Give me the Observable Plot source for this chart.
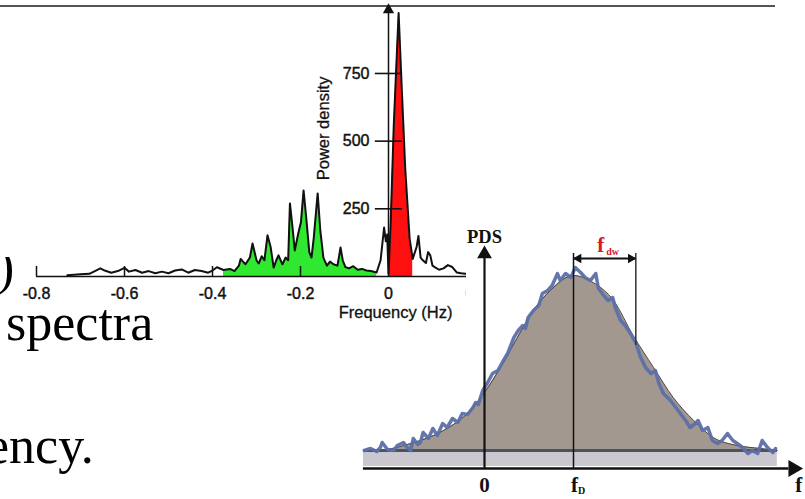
<!DOCTYPE html>
<html>
<head>
<meta charset="utf-8">
<script src="https://cdn.jsdelivr.net/npm/d3@7"></script>
<script src="https://cdn.jsdelivr.net/npm/@observablehq/plot@0.6"></script>
<style>
  html, body { margin: 0; padding: 0; background: #fff; }
  #page { position: relative; width: 805px; height: 499px; overflow: hidden; background: #fff; }
  .slide { position: absolute; font-family: "Liberation Serif", "Times New Roman", serif; font-size: 52px; line-height: 30px; color: #000; white-space: nowrap; }
  #rule { position: absolute; left: 0; top: 5px; width: 775px; height: 2px; background: #555; }
  #leftBox { position: absolute; left: 0; top: 0; width: 466px; height: 330px; overflow: hidden; }
  #rightBox { position: absolute; left: 355px; top: 225px; width: 450px; height: 274px; }
  #parenBox { position: absolute; left: 0; top: 257px; width: 30px; height: 45px; overflow: hidden; }
  #leftBox svg, #rightBox svg { max-width: none !important; }
</style>
</head>
<body>
<div id="page">
  <div id="rule"></div>
  <div id="parenBox"><div class="slide" style="left:-3px; top:-5px;">)</div></div>
  <div class="slide" style="left:6px; top:307.5px;">spectra</div>
  <div class="slide" style="left:-14px; top:431px;">ency.</div>
  <div id="leftBox"></div>
  <div id="rightBox"></div>
</div>
<script>
// ---------- Left chart: power density spectrum ----------
const leftFreq = [-0.73,-0.70,-0.68,-0.665,-0.655,-0.645,-0.63,-0.615,-0.60,-0.59,
  -0.575,-0.56,-0.545,-0.53,-0.515,-0.50,-0.485,-0.47,-0.455,-0.44,
  -0.425,-0.41,-0.40,-0.39,-0.375,-0.36,-0.35,-0.34,-0.336,-0.325,
  -0.315,-0.309,-0.300,-0.295,-0.288,-0.282,-0.275,-0.268,-0.261,-0.255,
  -0.25,-0.241,-0.234,-0.228,-0.224,-0.218,-0.213,-0.205,-0.199,-0.193,
  -0.186,-0.180,-0.175,-0.170,-0.161,-0.155,-0.148,-0.140,-0.133,-0.125,
  -0.116,-0.109,-0.104,-0.098,-0.09,-0.08,-0.07,-0.06,-0.05,-0.04,
  -0.027,-0.018,-0.010,-0.006,-0.003,0,0.005,0.012,0.023,0.030,
  0.038,0.048,0.055,0.058,0.064,0.068,0.073,0.078,0.085,0.090,
  0.095,0.100,0.105,0.115,0.125,0.135,0.145,0.155,0.165,0.175];
const leftPower = [5,8,10,22,30,22,14,20,32,18,
  24,14,20,12,18,12,22,26,14,24,
  20,14,22,34,24,28,20,40,65,45,
  70,122,60,48,75,60,152,110,33,60,
  78,45,70,60,270,180,96,160,200,318,
  200,90,70,140,307,170,70,40,55,45,
  40,107,60,35,30,38,25,28,22,20,
  15,60,181,130,155,10,200,560,973,700,
  400,140,65,80,110,150,70,60,50,90,
  78,40,35,25,30,42,35,15,12,10];
const leftTicksX = [-0.8, -0.6, -0.4, -0.2, 0, 0.2];
const leftTicksY = [250, 500, 750];
const greenBand = [-0.375, -0.027];
const redBand = [0, 0.055];
const leftXLabel = "Frequency (Hz)";
const leftYLabel = "Power density";

const spectrum = leftFreq.map((f, i) => ({f, p: leftPower[i]}));
const greenPart = spectrum.filter(d => d.f >= greenBand[0] && d.f <= greenBand[1]);
const redPart = spectrum.filter(d => d.f >= redBand[0] && d.f <= redBand[1]);
const fmtX = d => d === 0 ? "0" : d.toFixed(1);
const ink = "#111";
const heavy = {fill: ink, stroke: ink, strokeWidth: 0.45};

const leftPlot = Plot.plot({
  width: 480, height: 330,
  marginLeft: 36, marginRight: 4, marginTop: 5.3, marginBottom: 54,
  x: {domain: [-0.8, 0.2], axis: null},
  y: {domain: [0, 1000], axis: null},
  style: {background: "transparent", fontFamily: "'Liberation Sans', Arial, sans-serif", color: ink, overflow: "visible", maxWidth: "none"},
  marks: [
    Plot.areaY(greenPart, {x: "f", y: "p", fill: "#30e830"}),
    Plot.areaY(redPart, {x: "f", y: "p", fill: "#ff1010"}),
    Plot.ruleY([0], {x1: -0.8, x2: 0.2, stroke: ink, strokeWidth: 1.6}),
    Plot.ruleX(leftTicksX.filter(d => d < 0), {x: d => d, y1: 0, y2: 37, stroke: ink, strokeWidth: 1.5}),
    Plot.lineY(spectrum, {x: "f", y: "p", stroke: ink, strokeWidth: 2, strokeLinejoin: "round"}),
    Plot.ruleX([0], {x: d => d, y1: 0, y2: 985, stroke: ink, strokeWidth: 1.5}),
    Plot.dot([0], {x: d => d, y: 985, symbol: "triangle", r: 4.2, fill: ink, stroke: "none"}),
    Plot.ruleY(leftTicksY, {y: d => d, x1: -0.03, x2: 0.032, stroke: ink, strokeWidth: 1.6}),
    Plot.text(leftTicksY, {x: 0, y: d => d, text: d => String(d), textAnchor: "end", dx: -19, fontSize: 16, ...heavy}),
    Plot.text(leftTicksX, {x: d => d, y: 0, dy: 17, text: fmtX, fontSize: 16, ...heavy}),
    Plot.text([leftXLabel], {x: 0.016, y: 0, dy: 36, text: d => d, fontSize: 16.5, ...heavy, strokeWidth: 0.3}),
    Plot.text([leftYLabel], {x: -0.148, y: 547, text: d => d, rotate: -90, fontSize: 16.5, ...heavy, strokeWidth: 0.3})
  ]
});
document.getElementById("leftBox").appendChild(leftPlot);

// ---------- Right chart: schematic Doppler PDS ----------
const smoothFreq = [-1.36,-1.11,-0.83,-0.46,-0.16,0,0.18,0.37,0.55,0.74,1.0,1.22,1.45,1.67,1.90,2.12,2.35,2.57,2.84,3.10,3.29];
const smoothPDS  = [0.18,0.19,0.25,0.38,0.58,0.76,1.01,1.31,1.58,1.78,1.93,1.86,1.68,1.33,1.01,0.71,0.48,0.31,0.23,0.20,0.18];
const blueFreq = [-1.35,-1.28,-1.21,-1.17,-1.15,-1.09,-1.02,-0.98,-0.91,-0.87,
  -0.83,-0.80,-0.75,-0.72,-0.69,-0.63,-0.58,-0.53,-0.47,-0.42,
  -0.36,-0.30,-0.25,-0.19,-0.13,-0.10,-0.07,-0.02,0.03,0.09,
  0.15,0.20,0.26,0.33,0.38,0.43,0.46,0.49,0.55,0.61,
  0.65,0.71,0.76,0.82,0.85,0.91,0.97,1.02,1.08,1.13,
  1.19,1.25,1.28,1.34,1.39,1.44,1.47,1.53,1.58,1.64,
  1.70,1.75,1.81,1.87,1.92,1.96,2.01,2.09,2.15,2.20,
  2.26,2.31,2.37,2.40,2.45,2.51,2.56,2.62,2.67,2.73,
  2.79,2.84,2.90,2.96,3.01,3.07,3.12,3.18,3.24,3.27];
const bluePDS = [0.18,0.20,0.17,0.21,0.26,0.19,0.18,0.23,0.26,0.21,
  0.18,0.30,0.24,0.26,0.36,0.30,0.40,0.33,0.45,0.41,
  0.50,0.46,0.55,0.54,0.61,0.66,0.64,0.78,0.85,0.95,
  0.98,1.06,1.15,1.31,1.38,1.43,1.40,1.51,1.58,1.63,
  1.75,1.78,1.83,1.95,1.88,1.95,1.91,2.01,1.96,1.91,
  1.88,1.95,1.80,1.73,1.68,1.71,1.61,1.48,1.43,1.35,
  1.26,1.12,1.01,0.95,0.98,0.85,0.75,0.68,0.61,0.55,
  0.48,0.41,0.45,0.48,0.38,0.41,0.28,0.25,0.28,0.35,
  0.28,0.25,0.21,0.15,0.18,0.15,0.28,0.21,0.16,0.20];
const noiseFloor = 0.18;
const freqExtent = [-1.36, 3.29];
const dopplerShift = 1.0;     // f_D
const halfWidthEdge = 1.70;   // f_D + f_dw
const halfWidthLevel = 1.23;
const rightLabels = {y: "PDS", zero: "0", fd: "f", fdSub: "D", f: "f", dw: "f", dwSub: "dw"};

const smooth = smoothFreq.map((f, i) => ({f, v: smoothPDS[i]}));
const noisy = blueFreq.map((f, i) => ({f, v: bluePDS[i]}));
const serif = "'Liberation Serif', 'Times New Roman', serif";
const arrowLevel = 2.1;

const rightPlot = Plot.plot({
  width: 450, height: 274,
  marginLeft: 4.4, marginRight: 0.6, marginTop: 13, marginBottom: 31,
  x: {domain: [-1.4, 3.6], axis: null},
  y: {domain: [0, 2.3], axis: null},
  style: {background: "transparent", fontFamily: serif, overflow: "visible", maxWidth: "none"},
  marks: [
    Plot.rect([0], {x1: freqExtent[0], x2: freqExtent[1], y1: 0.02, y2: noiseFloor, fill: "#cbc7cf"}),
    Plot.areaY(smooth, {x: "f", y1: noiseFloor, y2: "v", fill: "#a3988f", curve: "monotone-x"}),
    Plot.lineY(smooth, {x: "f", y: "v", stroke: "#4a4440", strokeWidth: 1, curve: "monotone-x"}),
    Plot.ruleY([noiseFloor], {x1: freqExtent[0], x2: freqExtent[1], stroke: "#4b5363", strokeWidth: 3}),
    Plot.line(noisy, {x: "f", y: "v", stroke: "#5c6fa8", strokeWidth: 3.5, strokeLinejoin: "round", strokeOpacity: 0.95}),
    // axes
    Plot.ruleY([0], {x1: freqExtent[0], x2: 3.42, stroke: ink, strokeWidth: 2.5}),
    Plot.dot([0], {x: 3.47, y: 0, symbol: "triangle", rotate: 90, r: 6.3, fill: ink, stroke: "none"}),
    Plot.ruleX([0], {x: 0, y1: 0, y2: 2.12, stroke: ink, strokeWidth: 2.2}),
    Plot.dot([0], {x: 0, y: 2.145, symbol: "triangle", r: 5.5, fill: ink, stroke: "none"}),
    // f_D and width markers
    Plot.ruleX([dopplerShift], {x: d => d, y1: 0, y2: 2.15, stroke: ink, strokeWidth: 1.5}),
    Plot.ruleX([halfWidthEdge], {x: d => d, y1: halfWidthLevel, y2: 2.15, stroke: "#333", strokeWidth: 1.5}),
    Plot.ruleY([arrowLevel], {x1: dopplerShift, x2: halfWidthEdge, stroke: ink, strokeWidth: 2}),
    Plot.dot([dopplerShift], {x: d => d, y: arrowLevel, dx: 5, symbol: "triangle", rotate: -90, r: 3.6, fill: ink, stroke: "none"}),
    Plot.dot([halfWidthEdge], {x: d => d, y: arrowLevel, dx: -5, symbol: "triangle", rotate: 90, r: 3.6, fill: ink, stroke: "none"}),
    // labels
    Plot.text([rightLabels.y], {x: 0, y: 2.31, text: d => d, fontSize: 18.5, fontWeight: "bold", fill: ink}),
    Plot.text([rightLabels.zero], {x: 0, y: 0, dy: 17, text: d => d, fontSize: 21, fontWeight: "bold", fill: ink}),
    Plot.text([rightLabels.fd], {x: dopplerShift, y: 0, dy: 17, dx: 1, text: d => d, fontSize: 21, fontWeight: "bold", fill: ink}),
    Plot.text([rightLabels.fdSub], {x: dopplerShift, y: 0, dy: 22, dx: 8, text: d => d, fontSize: 10, fontWeight: "bold", fill: ink}),
    Plot.text([rightLabels.f], {x: 3.53, y: 0, dy: 17, text: d => d, fontSize: 21, fontWeight: "bold", fill: ink}),
    Plot.text([rightLabels.dw], {x: (dopplerShift + halfWidthEdge) / 2, y: 2.23, dx: -4, text: d => d, fontSize: 21, fontWeight: "bold", fill: "#d41c1c"}),
    Plot.text([rightLabels.dwSub], {x: (dopplerShift + halfWidthEdge) / 2, y: 2.23, dx: 8, dy: 6, text: d => d, fontSize: 10, fontWeight: "bold", fill: "#d41c1c"})
  ]
});
document.getElementById("rightBox").appendChild(rightPlot);
</script>
</body>
</html>
